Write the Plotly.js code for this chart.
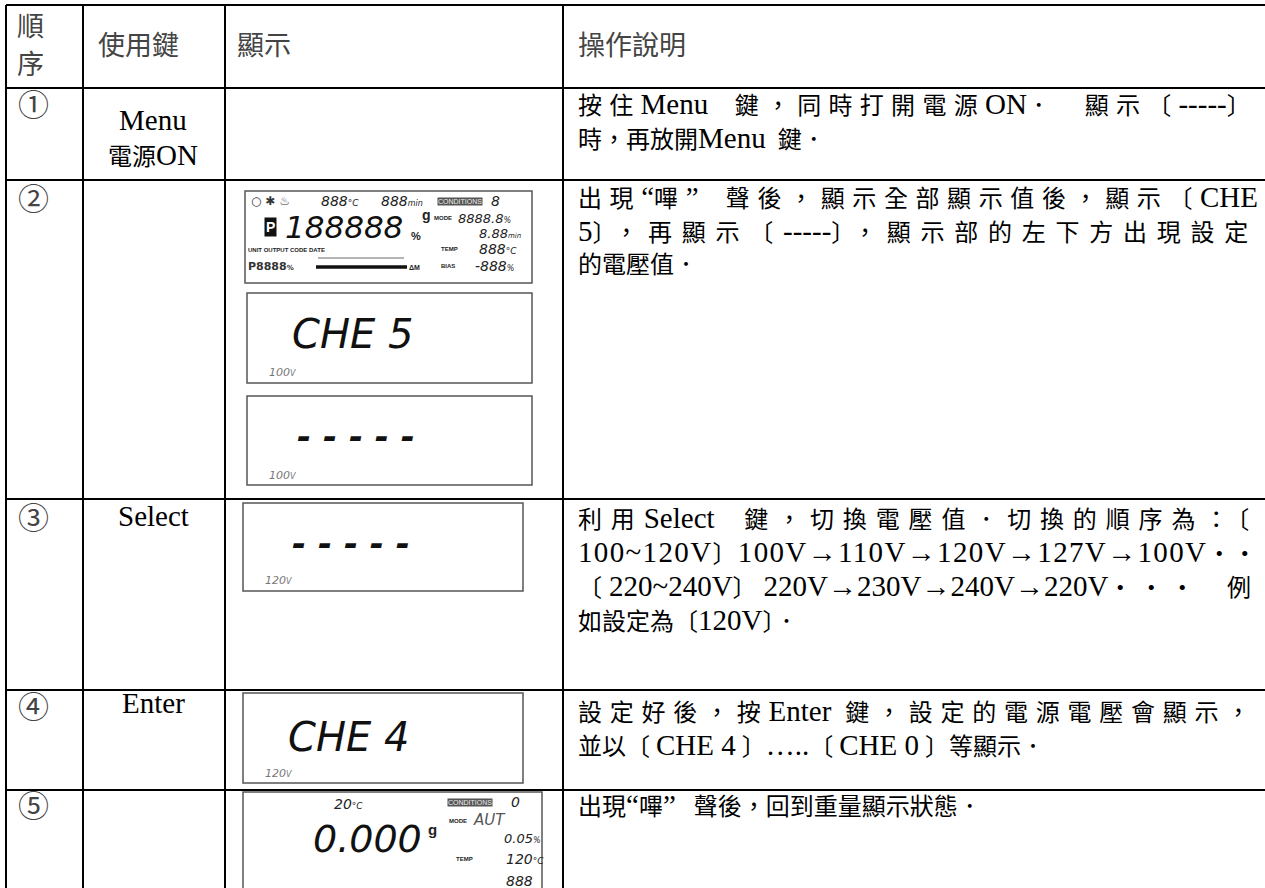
<!DOCTYPE html>
<html>
<head>
<meta charset="utf-8">
<script src="https://cdn.plot.ly/plotly-3.0.1.min.js"></script>
<style>
html,body{margin:0;padding:0;background:#fff;}
#chart{width:1265px;height:888px;}
</style>
</head>
<body>
<div id="chart"></div>
<script>
// ---------------- data ----------------
const headers = ['順', '序', '使用鍵', '顯示', '操作說明'];
const steps = ['①', '②', '③', '④', '⑤'];
const keyLines = [['Menu', '電源ON'], [], ['Select'], ['Enter'], []];
const descLines = [
  ['按住Menu  鍵，同時打開電源ON．  顯示〔-----〕', '時，再放開Menu  鍵．'],
  ['出現“嗶”  聲後，顯示全部顯示值後，顯示〔CHE', '5〕，再顯示〔-----〕，顯示部的左下方出現設定', '的電壓值．'],
  ['利用Select  鍵，切換電壓值．切換的順序為：〔', '100~120V〕100V→110V→120V→127V→100V‧‧', '〔220~240V〕220V→230V→240V→220V‧‧‧  例', '如設定為〔120V〕．'],
  ['設定好後，按Enter 鍵，設定的電源電壓會顯示，', '並以〔 CHE 4 〕…..〔 CHE 0 〕等顯示．'],
  ['出現“嗶”   聲後，回到重量顯示狀態．']
];
// LCD panel readouts
const lcdMain = ['CHE 5', '- - - - -', '- - - - -', 'CHE 4'];
const lcdVolt = ['100', '100', '120', '120'];
const fullTop = ['888', '888', '8'];
const fullBig = '188888';
const fullRight = ['8888.8', '8.88', '888', '-888'];
const fullLabels = ['MODE', 'TEMP', 'BIAS', 'UNIT OUTPUT CODE DATE', 'CONDITIONS'];
const weighTemp = '20';
const weighValue = '0.000';
const weighRight = ['0', 'AUT', '0.05', '120', '888'];

// ---------------- layout helpers ----------------
const W = 1265, H = 888;
const CJK = "'Liberation Serif', 'Noto Sans CJK TC', serif";
const LCDF = "'DejaVu Sans', 'Liberation Sans', sans-serif";
const LAT = '29px';
const ann = [];
const shapes = [];
function txt(t, x, y, o) {
  o = o || {};
  ann.push(Object.assign({
    text: t, x: x, y: y, xref: 'x', yref: 'y', showarrow: false,
    xanchor: 'left', yanchor: 'middle', align: 'left', borderpad: 0,
    font: {family: CJK, size: 24, color: '#000'}
  }, o));
}
function latin(s) {
  return s.replace(/([A-Za-z0-9~\-\.→“”…]+(?: +[A-Za-z0-9~\-\.→“”…]+)*)/g,
    '<span style="font-size:' + LAT + '">$1</span>');
}
function hline(y, x0, x1, w, c) { shapes.push({type: 'line', xref: 'x', yref: 'y', x0: x0, x1: x1, y0: y, y1: y, line: {color: c || '#000', width: w || 2}}); }
function vline(x, y0, y1, w, c) { shapes.push({type: 'line', xref: 'x', yref: 'y', x0: x, x1: x, y0: y0, y1: y1, line: {color: c || '#000', width: w || 2}}); }
function box(x0, y0, x1, y1) { shapes.push({type: 'rect', xref: 'x', yref: 'y', x0: x0, x1: x1, y0: y0, y1: y1, line: {color: '#555', width: 1.5}}); }

// table grid
const rowY = [5, 88, 180, 499, 690, 790];
const colX = [6, 83, 225, 563];
rowY.forEach(y => hline(y, 6, W + 5));
colX.forEach(x => vline(x, 5, H + 5));

// header
txt(headers[0], 30, 27, {xanchor: 'center', font: {family: CJK, size: 27}});
txt(headers[1], 30, 65, {xanchor: 'center', font: {family: CJK, size: 27}});
txt(headers[2], 97, 46, {font: {family: CJK, size: 27}});
txt(headers[3], 236, 46, {font: {family: CJK, size: 27}});
txt(headers[4], 577, 46, {font: {family: CJK, size: 27}});

// step numbers & keys
const stepY = [102, 196, 515, 704, 803];
steps.forEach((s, i) => txt(s, 33, stepY[i], {xanchor: 'center', font: {family: "'Noto Sans CJK TC', 'DejaVu Sans', sans-serif", size: 31}}));
const keyY = [[120, 155], [], [516], [703], []];
keyLines.forEach((ls, i) => ls.forEach((l, j) => txt(latin(l), 153, keyY[i][j], {xanchor: 'center', align: 'center'})));

// descriptions
const descY0 = [104, 197, 518, 711, 805];
const justify = [];
descLines.forEach((ls, i) => ls.forEach((l, j) => {
  if (j < ls.length - 1) justify.push(ann.length);
  txt(latin(l), 577, descY0[i] + j * 34);
}));

// LCD boxes
const lcdBoxes = [[245, 191, 532, 283], [247, 293, 532, 383], [247, 396, 532, 485], [243, 503, 523, 591], [243, 693, 523, 783], [243, 792, 542, 900]];
lcdBoxes.forEach(b => box(b[0], b[1], b[2], b[3]));
const mainPos = [[291, 334], [296, 436], [291, 543], [287, 737]];
const voltPos = [[268, 372], [268, 475], [264, 580], [264, 773]];
lcdMain.forEach((t, i) => {
  const dash = t.indexOf('-') === 0;
  txt(t, mainPos[i][0], mainPos[i][1], {font: {family: LCDF, size: dash ? 34 : 40, style: 'italic', weight: dash ? 'bold' : 'normal', color: '#111'}});
});
lcdVolt.forEach((t, i) => txt(t + '<span style="font-size:8px">V</span>', voltPos[i][0], voltPos[i][1], {font: {family: LCDF, size: 11, style: 'italic', color: '#777'}}));

// full segment test display
const it = (s) => ({family: LCDF, size: s, style: 'italic', color: '#222'});
const sm = (s) => ({family: "'Liberation Sans', sans-serif", size: s, weight: 'bold', color: '#222'});
txt('○ ✱ ♨', 250, 201, {font: {family: LCDF, size: 12, color: '#333'}});
txt(fullTop[0] + '<span style="font-size:9px">°C</span>', 320, 201, {font: it(14)});
txt(fullTop[1] + '<span style="font-size:8px">min</span>', 380, 201, {font: it(14)});
txt(fullLabels[4], 437, 201, {font: {family: "'Liberation Sans', sans-serif", size: 7, color: '#eee'}, bgcolor: '#555'});
txt(fullTop[2], 490, 201, {font: it(14)});
txt('P', 264, 227, {font: {family: "'Liberation Sans', sans-serif", size: 14, weight: 'bold', color: '#fff'}, bgcolor: '#111', borderpad: 1});
txt(fullBig, 284, 227, {font: {family: LCDF, size: 31, style: 'italic', color: '#111'}});
txt('%', 410, 236, {font: sm(11)});
txt('g', 421, 215, {font: sm(14)});
txt(fullLabels[0], 433, 218, {font: sm(6)});
txt(fullRight[0] + '<span style="font-size:8px">%</span>', 457, 218, {font: it(13)});
txt(fullRight[1] + '<span style="font-size:7px">min</span>', 478, 233, {font: it(13)});
txt(fullLabels[3], 247, 250, {font: sm(6)});
txt(fullLabels[1], 440, 249, {font: sm(6)});
txt(fullRight[2] + '<span style="font-size:9px">°C</span>', 478, 249, {font: it(14)});
txt('P8888<span style="font-size:7px">%</span>', 247, 266, {font: {family: LCDF, size: 11, weight: 'bold', color: '#333'}});
hline(267, 316, 407, 3.5, '#111');
hline(258, 318, 404, 0.8, '#444');
txt('ΔM', 408, 267, {font: sm(7)});
txt(fullLabels[2], 440, 266, {font: sm(6)});
txt(fullRight[3] + '<span style="font-size:8px">%</span>', 474, 266, {font: it(14)});

// weighing display
txt(weighTemp + '<span style="font-size:9px">°C</span>', 333, 804, {font: it(14)});
txt(weighValue, 312, 839, {font: {family: LCDF, size: 38, style: 'italic', color: '#111'}});
txt('g', 427, 829, {font: sm(15)});
txt(fullLabels[4], 447, 802, {font: {family: "'Liberation Sans', sans-serif", size: 7, color: '#eee'}, bgcolor: '#555'});
txt(weighRight[0], 510, 802, {font: it(14)});
txt(fullLabels[0], 448, 821, {font: sm(6)});
txt(weighRight[1], 472, 820, {font: {family: LCDF, size: 15, style: 'italic', color: '#555'}});
txt(weighRight[2] + '<span style="font-size:8px">%</span>', 503, 838, {font: it(13)});
txt(fullLabels[1], 455, 859, {font: sm(6)});
txt(weighRight[3] + '<span style="font-size:9px">°C</span>', 505, 859, {font: it(14)});
txt(weighRight[4], 505, 881, {font: it(14)});

const layout = {
  width: W, height: H, margin: {l: 0, r: 0, t: 0, b: 0},
  paper_bgcolor: '#fff', plot_bgcolor: '#fff', showlegend: false,
  xaxis: {range: [0, W], visible: false, fixedrange: true},
  yaxis: {range: [H, 0], visible: false, fixedrange: true},
  annotations: ann, shapes: shapes
};
Plotly.newPlot('chart', [{x: [0], y: [0], mode: 'markers', marker: {opacity: 0}, hoverinfo: 'skip'}], layout, {staticPlot: true, displayModeBar: false}).then(() => {
  const target = 1258 - 578;
  const isLat = (el) => el && el.tagName && el.tagName.toLowerCase() === 'tspan' && (el.getAttribute('style') || '').indexOf(LAT) >= 0;
  document.querySelectorAll('#chart .annotation').forEach(g => {
    const idx = +g.getAttribute('data-index');
    if (justify.indexOf(idx) < 0) return;
    const t = g.querySelector('text.annotation-text');
    if (!t) return;
    let nC = 0, nAll = 0;
    const walker = document.createTreeWalker(t, NodeFilter.SHOW_TEXT);
    let node;
    while ((node = walker.nextNode())) {
      nAll += node.textContent.length;
      if (!isLat(node.parentNode)) nC += node.textContent.length;
    }
    const cur = t.getComputedTextLength();
    if (cur >= target) return;
    if (nC >= 8) {
      t.style.letterSpacing = ((target - cur) / nC) + 'px';
      t.querySelectorAll('tspan').forEach(ts => { if (isLat(ts)) ts.style.letterSpacing = '0px'; });
    } else {
      t.style.letterSpacing = ((target - cur) / nAll) + 'px';
    }
  });
});
</script>
</body>
</html>
